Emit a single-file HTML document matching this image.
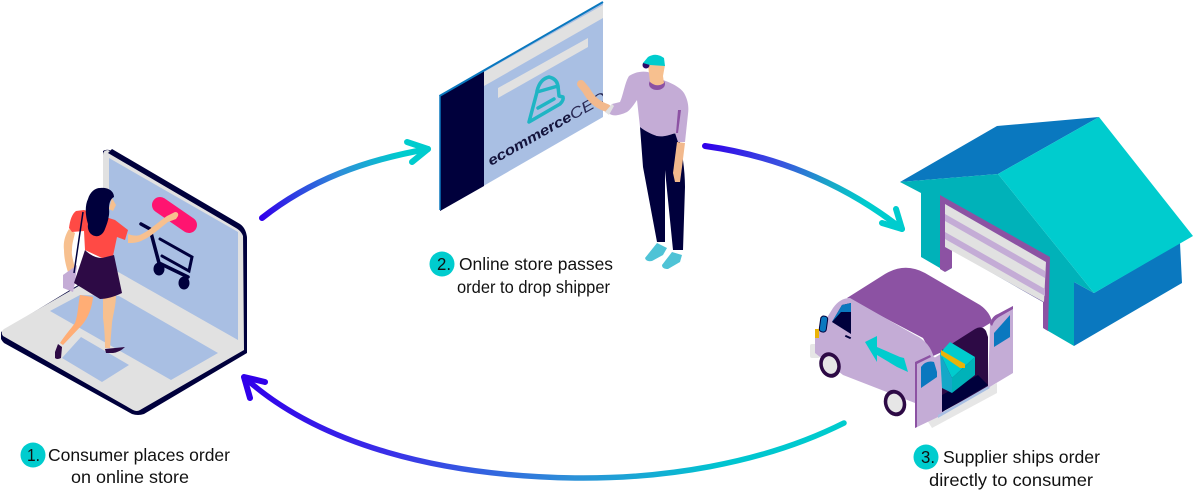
<!DOCTYPE html>
<html><head><meta charset="utf-8"><style>
html,body{margin:0;padding:0;background:#fff;width:1193px;height:490px;overflow:hidden}
svg{display:block}
text{font-family:"Liberation Sans",sans-serif;font-size:17.5px;fill:#111}
</style></head><body>
<svg width="1193" height="490" viewBox="0 0 1193 490" xmlns="http://www.w3.org/2000/svg">
<defs>
<linearGradient id="g1" gradientUnits="userSpaceOnUse" x1="262" y1="218" x2="428" y2="149"><stop offset="0" stop-color="#3000ea"/><stop offset=".5" stop-color="#2d8fd8"/><stop offset=".85" stop-color="#00ccce"/></linearGradient>
<linearGradient id="g2" gradientUnits="userSpaceOnUse" x1="705" y1="146" x2="902" y2="229"><stop offset="0" stop-color="#3000ea"/><stop offset=".35" stop-color="#3a50e0"/><stop offset=".6" stop-color="#1aa5c8"/><stop offset=".8" stop-color="#00ccce"/></linearGradient>
<linearGradient id="g3" gradientUnits="userSpaceOnUse" x1="845" y1="423" x2="245" y2="378"><stop offset="0" stop-color="#00ccce"/><stop offset=".2" stop-color="#00c4d0"/><stop offset=".45" stop-color="#2d8fd8"/><stop offset=".75" stop-color="#3a30e8"/><stop offset="1" stop-color="#3000ea"/></linearGradient>
<clipPath id="scr"><polygon points="484,72 603,5 603,117 484,186"/></clipPath>
</defs>

<!-- Laptop -->
<path d="M1,332 L1,339 Q2,341 4,343 L132,414 Q138,416 144,414 L247,353 L247,240 Q247,230 240,225 L114,152 Q107,148 103,151 L103,270 Z" fill="#00003c"/>
<path d="M103,155 Q103,150 108,150 L243,232 L244,350 L140,410 Q137,412 133,410 L3,336 Q0,332 4,329 L103,272 Z" fill="#e1e1e1"/>
<path d="M112,149 L240,224 Q247,229 247,240 L247,352 L244,352 L244,240 Q243,232 236,228 L108,153 Z" fill="#00003c"/>
<polygon points="109,158 238,232 238,340 120,273 109,267" fill="#a9bfe3"/>
<polygon points="80,295 119,296 218,353 171,380 50,311" fill="#a9bfe3"/>
<polygon points="62,358 81,337 129,365 102,382" fill="#a9bfe3"/>
<line x1="160" y1="205" x2="189" y2="225" stroke="#ff1470" stroke-width="16" stroke-linecap="round"/>
<!-- cart -->
<path d="M141,224 L150,229 L159,263 L188,277" fill="none" stroke="#00003c" stroke-width="3.5" stroke-linecap="round"/>
<path d="M160,239 L192,257 L189,271 L162,256" fill="none" stroke="#00003c" stroke-width="3" stroke-linecap="round"/>
<ellipse cx="159" cy="269" rx="5.500" ry="6.500" fill="#00003c"/><ellipse cx="184" cy="283" rx="5.500" ry="6.500" fill="#00003c"/>
<!-- woman -->
<path d="M58,344 L62,347 L61,358 Q57,360 55,358 L55,352 Z" fill="#2d0a45"/>
<path d="M105,349 L125,347 Q120,352 113,353 L106,353 Z" fill="#2d0a45"/>
<path d="M80,295 L93,297 C92,308 88,318 82,325 L63,345 L60,343 C65,335 70,330 75,323 C78,315 78,305 80,295 Z" fill="#ffad75"/>
<path d="M103,296 L116,295 C116,305 113,315 112,323 L110,348 L105,348 C105,335 104,325 103,318 Z" fill="#f7c08f"/>
<path d="M69,229 C65,235 63,243 64,250 C64,258 66,266 68,272 L75,270 C74,262 71,255 72,250 C72,243 74,238 75,233 Z" fill="#f7c08f"/>
<path d="M63,275 L77,265 L75,283 L73,292 L63,288 Z" fill="#c4acd6"/>
<path d="M128,234 C133,236 137,236 140,235 C149,231 158,222 167,216 L175,212 Q179,212 178,216 L176,219 L168,222 C160,228 152,236 143,240 C138,243 132,243 128,243 Z" fill="#f7c08f"/>
<path d="M69,228 C70,220 72,214 76,211 L84,210 L115,220 L128,230 L125,240 L117,237 L113,256 L102,258 L85,250 L84,231 L72,232 Z" fill="#ff4a45"/>
<path d="M85,250 C90,255 96,258 102,258 L114,255 L122,293 C114,297 106,299 100,299 L74,283 Z" fill="#2d0a45"/>
<path d="M112,198 L116,205 L113,211 L109,209 Z" fill="#f7c08f"/>
<path d="M100,188 C108,187 114,191 114,197 C110,199 109,204 109,209 C110,216 107,224 105,229 C103,235 98,237 95,236 C90,235 87,230 88,224 C85,215 85,205 88,199 C90,192 95,188 100,188 Z" fill="#00003c"/>
<line x1="83" y1="212" x2="74" y2="273" stroke="#00003c" stroke-width="1.500"/>

<!-- Screen -->
<polygon points="440,95 603,3 603,117 440,211" fill="#a9bfe3"/>
<polygon points="440,95 484,70 484,186 440,211" fill="#00003c"/>
<polygon points="484,72 603,5 603,18 484,86" fill="#e1e1e1"/>
<polygon points="498,88 588,38 588,47 498,98" fill="#e1e1e1"/>
<line x1="439.500" y1="96" x2="603" y2="2" stroke="#0a78bf" stroke-width="2"/>
<line x1="440" y1="95" x2="440" y2="210" stroke="#0a78bf" stroke-width="1.500"/>
<g fill="none" stroke="#1fb5c4" stroke-width="3.500" stroke-linecap="round" stroke-linejoin="round">
<path d="M537,92 L529,122 L560,104 Q564,100 563,97 L559,96 L558,86 Z"/>
<path d="M537,91 Q540,79 549,77 Q558,79 558,88"/>
<path d="M538,108 L554,99"/>
</g>
<g clip-path="url(#scr)">
<text transform="translate(491,166) rotate(-29.500)" style="font-size:14px;font-style:italic;font-weight:bold;fill:#14143c" textLength="94" lengthAdjust="spacingAndGlyphs">ecommerce</text>
<text transform="translate(573,120) rotate(-29.500)" style="font-size:15px;font-style:italic;fill:#2a2a55" textLength="40" lengthAdjust="spacingAndGlyphs">CEO</text>
</g>
<!-- man -->
<path d="M645,258 L657,243 L667,248 L663,255 L652,261 Q646,262 645,258 Z" fill="#4fc3d6"/>
<path d="M662,265 L672,252 L682,255 L680,262 L668,269 Q662,269 662,265 Z" fill="#4fc3d6"/>
<path d="M640,127 L657,136 L678,133 C682,150 685,170 685,187 L683,250 L673,250 L665,170 L665,242 L657,242 L643,167 Z" fill="#00003c"/>
<path d="M677,142 L685,143 L682,167 L680,182 L675,182 L673,173 Z" fill="#f2b98d"/>
<path d="M581,84 L586,90 C590,97 595,104 607,108" fill="none" stroke="#f2b98d" stroke-width="8" stroke-linecap="round"/>
<path d="M629,76 C635,72 642,71 648,72 L663,80 C672,83 681,88 684,93 C688,100 689,107 688,114 L685,142 L678,142 L675,133 C668,136 662,137 657,136 C651,134 645,131 640,127 L637,100 C633,106 630,110 627,112 C621,115 615,116 612,115 L605,112 L612,104 L620,102 C623,96 625,82 629,76 Z" fill="#c4acd6"/>
<path d="M605,112 L612,104 L614,106 L609,115 Z" fill="#e1e1e1"/>
<path d="M678,110 L681,110 L678,133 L676,133 Z" fill="#8c52a3"/>
<ellipse cx="657" cy="84" rx="8" ry="6" fill="#8c52a3"/>
<path d="M648,65 L665,65 L663,76 L664,83 Q657,88 650,82 Z" fill="#f7c08f"/>
<ellipse cx="646" cy="65" rx="3.500" ry="3.500" fill="#2d0a6a"/>
<path d="M643,63 L648,57 Q656,52 664,58 L665,66 L650,65 Z" fill="#00ccce"/>

<!-- Warehouse -->
<polygon points="900,182 997,126 1099,117 998,174" fill="#0a78bf"/>
<polygon points="1074,282 1094,293 1180,243 1182,283 1074,346" fill="#0a78bf"/>
<polygon points="900,182 998,174 1094,293 1074,282 1074,346 921,257 921,193" fill="#00b2b9"/>
<polygon points="998,174 1099,117 1193,236 1094,293" fill="#00ccce"/>
<polygon points="952,250 1043,302 1044,329 945,272 952,268" fill="#fff"/>
<polygon points="940,195 1050,257 1048,331 1043,328 1043,302 952,250 952,268 945,272 940,269" fill="#8c52a3"/>
<polygon points="945,204 1046,262 1044,302 945,247" fill="#e1e1e1"/>
<polygon points="945,214 1045,271 1045,278 945,221" fill="#c4acd6"/>
<polygon points="945,232 1045,289 1045,296 945,239" fill="#c4acd6"/>

<!-- Van -->
<path d="M927,420 L932,428 L997,393 L997,383 Z" fill="#e6e6e6"/>
<rect x="810" y="344" width="10" height="14" rx="2" fill="#e6e6e6"/>
<path d="M847,298 L885,274 Q905,262 925,273 L980,305 Q990,312 992,322 L942,352 L933,356 L923,338 Z" fill="#8c52a3"/>
<path d="M815,337 L833,308 Q840,298 850,298 L915,335 Q930,342 934,358 L944,352 L944,412 L938,417 L915,403 L843,375 L815,353 Z" fill="#c4acd6"/>
<polygon points="832,322 842,305 851,303 851,334" fill="#00003c"/>
<polygon points="832,322 842,305 851,303 851,312 841,312" fill="#0a78bf"/>
<rect x="820" y="316" width="7" height="16" rx="3" fill="#0a78bf" stroke="#00003c" stroke-width="1" transform="rotate(8 823 324)"/>
<rect x="815" y="329" width="4" height="9" fill="#eab308"/>
<rect x="845" y="336" width="6" height="2" fill="#00003c" transform="rotate(25 848 337)"/>
<polygon points="865,342 877,336 877,347 900,357 904,358 908,372 897,367 877,355 877,362" fill="#00ccce"/>
<ellipse cx="830" cy="365" rx="10.500" ry="13" fill="#2d0a45" transform="rotate(-18 830 365)"/><ellipse cx="830" cy="365" rx="7" ry="9" fill="#e6e6e6" transform="rotate(-18 830 365)"/>
<ellipse cx="895" cy="403" rx="11" ry="13.500" fill="#2d0a45" transform="rotate(-18 895 403)"/><ellipse cx="895" cy="403" rx="7.500" ry="9.500" fill="#e6e6e6" transform="rotate(-18 895 403)"/>
<path d="M942,412 L942,350 L975,329 Q982,325 986,331 L988,337 L988,387 Z" fill="#2d0a45"/>
<polygon points="942,412 942,395 978,375 988,385" fill="#00003c"/>
<polygon points="938,415 988,386 990,388 938,418" fill="#a9bfe3"/>
<polygon points="963,368 975,357 975,375 952,393 952,378" fill="#00b2b9"/>
<polygon points="940,353 952,378 952,393 942,388" fill="#14a8c8"/>
<polygon points="940,353 950,342 975,357 952,378" fill="#00ccce"/>
<polygon points="941,350 965,364 965,368 960,368 941,355" fill="#eab308"/>
<path d="M990,324 Q992,316 998,314 L1013,306 L1013,373 L988,388 Z" fill="#c4acd6"/>
<path d="M990,324 Q992,316 998,314 L1013,306 L1013,309 L999,317 Q994,320 992,326 Z" fill="#8c52a3"/>
<polygon points="994,333 1010,315 1010,337 994,347" fill="#0a78bf"/>
<path d="M915,362 L930,355 Q937,357 938,363 L938,417 L915,428 Z" fill="#c4acd6"/>
<polygon points="915,362 930,355 931,357 917,364 917,427 915,428" fill="#8c52a3"/>
<path d="M921,367 Q926,360 934,362 L937,372 L937,377 L921,388 Z" fill="#0a78bf"/>

<!-- Arrows -->
<g fill="none" stroke-linecap="round" stroke-linejoin="round">
<path d="M262,218 C310,180 365,160 428,149" stroke="url(#g1)" stroke-width="6"/>
<path d="M407,142 L428,149 L412,162" stroke="#00ccce" stroke-width="6"/>
<path d="M705,146 C770,155 840,180 902,229" stroke="url(#g2)" stroke-width="6"/>
<path d="M896,209 L902,229 L882,223" stroke="#00ccce" stroke-width="6"/>
<path d="M844,423 C760,465 660,479 575,478 C440,476 320,445 245,378" stroke="url(#g3)" stroke-width="5.500"/>
<path d="M265,382 L244,377 L250,398" stroke="#3000ea" stroke-width="6"/>
</g>

<!-- Labels -->
<circle cx="33" cy="455" r="12.500" fill="#00ccce"/>
<text x="27" y="461" textLength="13" lengthAdjust="spacingAndGlyphs">1.</text>
<text x="48" y="461" textLength="182" lengthAdjust="spacingAndGlyphs">Consumer places order</text>
<text x="71" y="483" textLength="118" lengthAdjust="spacingAndGlyphs">on online store</text>
<circle cx="442" cy="264" r="12.500" fill="#00ccce"/>
<text x="437" y="270" textLength="14" lengthAdjust="spacingAndGlyphs">2.</text>
<text x="459" y="270" textLength="154" lengthAdjust="spacingAndGlyphs">Online store passes</text>
<text x="457" y="293" textLength="153" lengthAdjust="spacingAndGlyphs">order to drop shipper</text>
<circle cx="926" cy="457" r="12.500" fill="#00ccce"/>
<text x="921" y="463" textLength="14" lengthAdjust="spacingAndGlyphs">3.</text>
<text x="943" y="463" textLength="157" lengthAdjust="spacingAndGlyphs">Supplier ships order</text>
<text x="929" y="486" textLength="164" lengthAdjust="spacingAndGlyphs">directly to consumer</text>
</svg>
</body></html>
